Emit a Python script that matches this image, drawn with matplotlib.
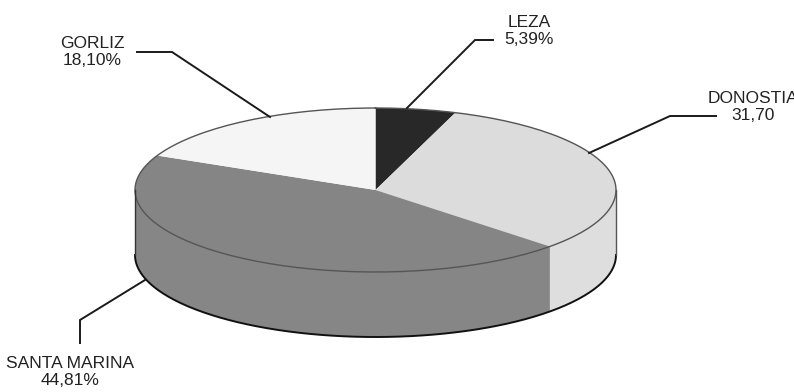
import numpy as np
import matplotlib
matplotlib.use("Agg")
import matplotlib.pyplot as plt

names = ["LEZA", "DONOSTIA", "SANTA MARINA", "GORLIZ"]
values = [5.39, 31.70, 44.81, 18.10]
value_labels = ["5,39%", "31,70", "44,81%", "18,10%"]
top_colors = ["#282828", "#dcdcdc", "#858585", "#f5f5f5"]
side_colors = ["#282828", "#dedede", "#868686", "#f5f5f5"]

cx, cy = 375.5, 190
rx, ry = 240.5, 82
depth = 65

plt.rcParams['font.family'] = ['Liberation Sans Narrow', 'Liberation Sans', 'DejaVu Sans']


def rim(t0, t1):
    t = np.linspace(t0, t1, 200)
    return cx + rx * np.sin(t), cy - ry * np.cos(t)


fig = plt.figure(figsize=(7.94, 3.92), dpi=100)
ax = fig.add_axes([0, 0, 1, 1])
ax.set_xlim(0, 794)
ax.set_ylim(392, 0)
ax.axis("off")

edges = np.concatenate([[0], np.cumsum(values)]) / sum(values) * 2 * np.pi

# side wall first, only the front half of the cylinder shows
for i in range(len(values)):
    t0 = max(edges[i], np.pi / 2)
    t1 = min(edges[i + 1], 3 * np.pi / 2)
    if t1 <= t0:
        continue
    x, y = rim(t0, t1)
    ax.fill(np.r_[x, x[::-1]], np.r_[y, y[::-1] + depth], color=side_colors[i], lw=0, zorder=1)

# top slices
for i in range(len(values)):
    x, y = rim(edges[i], edges[i + 1])
    ax.fill(np.r_[cx, x], np.r_[cy, y], color=top_colors[i], lw=0, zorder=2)

# outlines
x, y = rim(0, 2 * np.pi)
ax.plot(x, y, color="#555555", lw=1.0, zorder=3)
x, y = rim(np.pi / 2, 3 * np.pi / 2)
ax.plot(x, y + depth, color="#111111", lw=1.4, zorder=3)
ax.plot([x[0], x[0]], [y[0], y[0] + depth], color="#555555", lw=1.0, zorder=3)
ax.plot([x[-1], x[-1]], [y[-1], y[-1] + depth], color="#333333", lw=1.0, zorder=3)

# leader lines
leaders = [
    ([407, 475, 493], [108, 40, 40]),
    ([589, 670, 716], [153, 116, 116]),
    ([145, 80, 80], [280, 320, 343]),
    ([270, 172, 137], [117, 52, 52]),
]
for lx, ly in leaders:
    ax.plot(lx, ly, color="#1a1a1a", lw=1.4, zorder=4, solid_joinstyle="miter")

# labels
label_pos = [(529, 31), (753, 107), (70, 372), (92, 52)]
for i, (px, py) in enumerate(label_pos):
    ax.text(px, py, names[i] + "\n" + value_labels[i], ha="center", va="center",
            fontsize=12.5, color="#222222", linespacing=1.2)

fig.savefig("out.png", dpi=100)
